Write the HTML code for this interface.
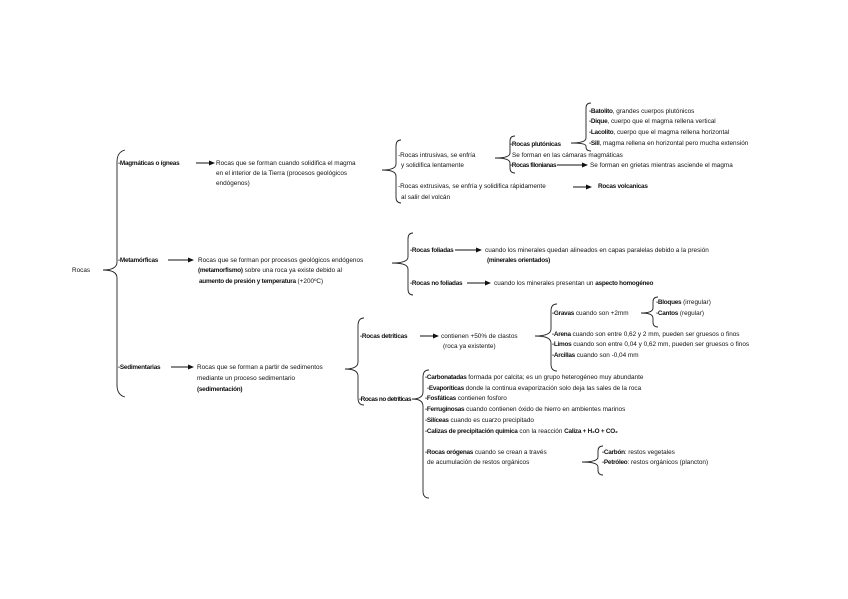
<!DOCTYPE html>
<html><head><meta charset="utf-8"><style>
html,body{margin:0;padding:0;background:#fff;}
svg{display:block;}
text{font-family:"Liberation Sans",sans-serif;font-size:6.4px;fill:#111;}
.b{font-weight:bold;letter-spacing:-0.25px;}
path.br{fill:none;stroke:#222;stroke-width:0.9;}
line{stroke:#111;stroke-width:1;}
</style></head><body>
<svg width="848" height="599" viewBox="0 0 848 599" xmlns="http://www.w3.org/2000/svg">
<defs><marker id="a" markerWidth="6" markerHeight="6" refX="5" refY="3" orient="auto" markerUnits="userSpaceOnUse"><path d="M0,0.5 L6,3 L0,5.5 z" fill="#111"/></marker></defs>
<path class="br" d="M125,150 Q117,152 117,162 L117,262 Q117,270 103,270 Q117,270 117,278 L117,385 Q117,395 125,397"/>
<path class="br" d="M401,140 Q396,140 396,146 L396,164 Q396,170 382,170 Q396,170 396,176 L396,197 Q396,203 401,203"/>
<path class="br" d="M515,136 Q510,136 510,141 L510,153 Q510,158 495,158 Q510,158 510,163 L510,168 Q510,173 515,173"/>
<path class="br" d="M591,103 Q586,103 586,108 L586,138 Q586,143 571,143 Q586,143 586,146 L586,147 Q586,151 591,151"/>
<path class="br" d="M413,233 Q408,233 408,239 L408,257 Q408,263 392,263 Q408,263 408,269 L408,289 Q408,295 413,295"/>
<path class="br" d="M364,318 Q358,318 358,326 L358,362 Q358,369 345,369 Q358,369 358,376 L358,398 Q358,405 364,405"/>
<path class="br" d="M557,304 Q551,304 551,311 L551,329 Q551,336 535,336 Q551,336 551,343 L551,364 Q551,371 557,371"/>
<path class="br" d="M658,297 Q653,297 653,302 L653,308 Q653,313 641,313 Q653,313 653,318 L653,322 Q653,327 658,327"/>
<path class="br" d="M429,370 Q423,370 423,377 L423,392 Q423,399 412,399 Q423,399 423,406 L423,491 Q423,498 429,498"/>
<path class="br" d="M603,446 Q598,446 598,451 L598,457 Q598,462 582,462 Q598,462 598,467 L598,470 Q598,475 603,475"/>
<line x1="196" y1="163" x2="214" y2="163" marker-end="url(#a)"/>
<line x1="573" y1="187" x2="591" y2="187" marker-end="url(#a)"/>
<line x1="557" y1="165" x2="587" y2="165" marker-end="url(#a)"/>
<line x1="168" y1="260" x2="193" y2="260" marker-end="url(#a)"/>
<line x1="455" y1="250" x2="481" y2="250" marker-end="url(#a)"/>
<line x1="467" y1="283" x2="490" y2="283" marker-end="url(#a)"/>
<line x1="171" y1="367" x2="193" y2="367" marker-end="url(#a)"/>
<line x1="420" y1="336" x2="438" y2="336" marker-end="url(#a)"/>
<text x="72" y="272">Rocas</text>
<text x="118" y="165" class="b">-Magmáticas o ígneas</text>
<text x="216" y="165">Rocas que se forman cuando solidifica el magma</text>
<text x="216" y="175">en el interior de la Tierra (procesos geológicos</text>
<text x="216" y="185">endógenos)</text>
<text x="398" y="157">-Rocas intrusivas, se enfría</text>
<text x="401" y="167">y solidifica lentamente</text>
<text x="398" y="188">-Rocas extrusivas, se enfría y solidifica rápidamente</text>
<text x="401" y="199">al salir del volcán</text>
<text x="598" y="188" class="b">Rocas volcanicas</text>
<text x="510" y="146" class="b">-Rocas plutónicas</text>
<text x="512" y="157">Se forman en las cámaras magmáticas</text>
<text x="510" y="167" class="b" style="letter-spacing:-0.4px">-Rocas filonianas</text>
<text x="590" y="167">Se forman en grietas mientras asciende el magma</text>
<text x="589" y="113"><tspan class="b">-Batolito</tspan>, grandes cuerpos plutónicos</text>
<text x="589" y="123"><tspan class="b">-Dique</tspan>, cuerpo que el magma rellena vertical</text>
<text x="589" y="134"><tspan class="b">-Lacolito</tspan>, cuerpo que el magma rellena horizontal</text>
<text x="589" y="145"><tspan class="b">-Sill</tspan>, magma rellena en horizontal pero mucha extensión</text>
<text x="118" y="262" class="b">-Metamórficas</text>
<text x="198" y="262">Rocas que se forman por procesos geológicos endógenos</text>
<text x="198" y="272"><tspan class="b">(metamorfismo)</tspan> sobre una roca ya existe debido al</text>
<text x="199" y="283"><tspan class="b">aumento de presión y temperatura</tspan> (+200ºC)</text>
<text x="410" y="252" class="b">-Rocas foliadas</text>
<text x="485" y="252">cuando los minerales quedan alineados en capas paralelas debido a la presión</text>
<text x="487" y="262" class="b">(minerales orientados)</text>
<text x="410" y="285" class="b">-Rocas no foliadas</text>
<text x="494" y="285">cuando los minerales presentan un <tspan class="b">aspecto homogéneo</tspan></text>
<text x="118" y="369" class="b">-Sedimentarias</text>
<text x="197" y="369">Rocas que se forman a partir de sedimentos</text>
<text x="197" y="380">mediante un proceso sedimentario</text>
<text x="197" y="391" class="b">(sedimentación)</text>
<text x="360" y="338" class="b">-Rocas detríticas</text>
<text x="441" y="338">contienen +50% de clastos</text>
<text x="443" y="348">(roca ya existente)</text>
<text x="552" y="315"><tspan class="b">-Gravas</tspan> cuando son +2mm</text>
<text x="656" y="304"><tspan class="b">-Bloques</tspan> (irregular)</text>
<text x="656" y="315"><tspan class="b">-Cantos</tspan> (regular)</text>
<text x="552" y="336"><tspan class="b">-Arena</tspan> cuando son entre 0,62 y 2 mm, pueden ser gruesos o finos</text>
<text x="552" y="346"><tspan class="b">-Limos</tspan> cuando son entre 0,04 y 0,62 mm, pueden ser gruesos o finos</text>
<text x="552" y="357"><tspan class="b">-Arcillas</tspan> cuando son -0,04 mm</text>
<text x="359" y="401" class="b" style="letter-spacing:-0.45px">-Rocas no detríticas</text>
<text x="425" y="379"><tspan class="b">-Carbonatadas</tspan> formada por calcita; es un grupo heterogéneo muy abundante</text>
<text x="427" y="390"><tspan class="b">-Evaporíticas</tspan> donde la continua evaporización solo deja las sales de la roca</text>
<text x="425" y="400"><tspan class="b">-Fosfáticas</tspan> contienen fosforo</text>
<text x="425" y="411"><tspan class="b">-Ferruginosas</tspan> cuando contienen óxido de hierro en ambientes marinos</text>
<text x="425" y="422"><tspan class="b">-Silíceas</tspan> cuando es cuarzo precipitado</text>
<text x="425" y="433"><tspan class="b">-Calizas de precipitación química</tspan> con la reacción <tspan class="b">Caliza + H₂O + CO₂</tspan></text>
<text x="425" y="454"><tspan class="b">-Rocas orógenas</tspan> cuando se crean a través</text>
<text x="427" y="464">de acumulación de restos orgánicos</text>
<text x="602" y="454"><tspan class="b">-Carbón</tspan>: restos vegetales</text>
<text x="602" y="464"><tspan class="b">-Petróleo</tspan>: restos orgánicos (plancton)</text>
</svg>
</body></html>
